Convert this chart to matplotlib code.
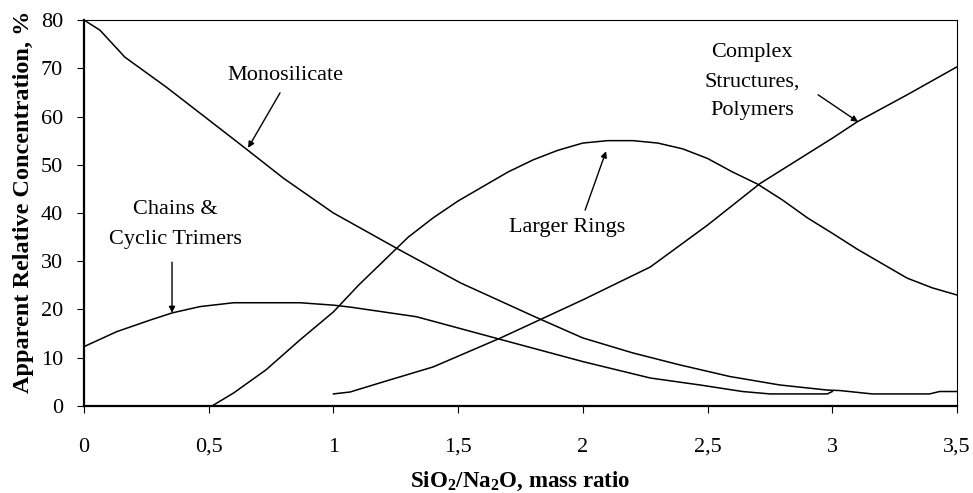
import matplotlib
matplotlib.use("Agg")
import matplotlib.pyplot as plt

plt.rcParams["font.family"] = ["Liberation Serif", "DejaVu Serif"]
plt.rcParams["mathtext.fontset"] = "custom"
plt.rcParams["mathtext.rm"] = "Liberation Serif"
plt.rcParams["mathtext.bf"] = "Liberation Serif:bold"
plt.rcParams["xtick.major.pad"] = 18
plt.rcParams["ytick.major.pad"] = 10
plt.rcParams["xtick.major.size"] = 5
plt.rcParams["ytick.major.size"] = 5
plt.rcParams["xtick.labelsize"] = 16
plt.rcParams["ytick.labelsize"] = 16

# values (x = SiO2/Na2O mass ratio, y = %)
mono_x = [0, 0.064, 0.164, 0.33, 0.465, 0.6, 0.667, 0.8, 1.0, 1.267, 1.51, 1.82, 2.0,
          2.2, 2.39, 2.59, 2.79, 2.98, 3.03, 3.16, 3.39, 3.43, 3.5]
mono_y = [80, 77.9, 72.3, 66.1, 60.7, 55.3, 52.6, 47.2, 40.0, 32.3, 25.5, 18.2, 14.1,
          11.0, 8.5, 6.1, 4.35, 3.3, 3.2, 2.5, 2.5, 3.0, 3.0]

chain_x = [0, 0.131, 0.265, 0.354, 0.465, 0.6, 0.866, 1.0, 1.067, 1.333, 1.655, 2.0,
           2.27, 2.47, 2.64, 2.75, 2.98, 3.0]
chain_y = [12.3, 15.4, 17.8, 19.3, 20.6, 21.4, 21.4, 20.9, 20.5, 18.5, 14.0, 9.2,
           5.8, 4.35, 3.0, 2.5, 2.5, 3.0]

ring_x = [0.513, 0.6, 0.73, 0.866, 1.0, 1.1, 1.2, 1.3, 1.4, 1.5, 1.6, 1.7, 1.8, 1.9,
          2.0, 2.1, 2.2, 2.3, 2.4, 2.5, 2.6, 2.7, 2.8, 2.9, 3.0, 3.1, 3.2, 3.3, 3.4, 3.5]
ring_y = [0, 2.7, 7.5, 13.7, 19.5, 25.0, 30.0, 35.0, 39.0, 42.5, 45.5, 48.5, 51.0, 53.0,
          54.5, 55.0, 55.0, 54.5, 53.3, 51.3, 48.5, 46.0, 42.7, 39.0, 35.8, 32.5, 29.5,
          26.5, 24.5, 23.0]

cplx_x = [1.0, 1.067, 1.2, 1.4, 1.67, 2.0, 2.27, 2.5, 2.71, 3.0, 3.1, 3.3, 3.5]
cplx_y = [2.5, 2.9, 5.0, 8.1, 14.1, 22.0, 28.8, 37.5, 46.1, 55.5, 58.9, 64.5, 70.3]

x_ticks = [0, 0.5, 1, 1.5, 2, 2.5, 3, 3.5]
x_tick_labels = ["0", "0,5", "1", "1,5", "2", "2,5", "3", "3,5"]
y_ticks = [0, 10, 20, 30, 40, 50, 60, 70, 80]

fig = plt.figure(figsize=(9.73, 4.93), dpi=100)
ax = fig.add_axes([0.0863, 0.1765, 0.8973, 0.7829])

for xs, ys in [(mono_x, mono_y), (chain_x, chain_y), (ring_x, ring_y), (cplx_x, cplx_y)]:
    ax.plot(xs, ys, color="black", linewidth=1.1)

ax.set_xlim(0, 3.5)
ax.set_ylim(0, 80)
ax.set_xticks(x_ticks)
ax.set_xticklabels(x_tick_labels)
ax.set_yticks(y_ticks)

ax.spines["left"].set_linewidth(1.6)
ax.spines["bottom"].set_linewidth(1.6)
ax.spines["top"].set_linewidth(0.8)
ax.spines["right"].set_linewidth(0.8)

ax.set_xlabel(r"SiO$_\mathbf{2}$/Na$_\mathbf{2}$O, mass ratio", fontsize=16.5,
              fontweight="bold")
ax.xaxis.set_label_coords(0.5, -0.165)
ax.set_ylabel("Apparent Relative Concentration, %", fontsize=17.5, fontweight="bold")
ax.yaxis.set_label_coords(-0.057, 0.528)

arrow = dict(arrowstyle="-|>", color="black", lw=1.0, mutation_scale=9,
             shrinkA=0, shrinkB=0)
ax.annotate("", xy=(0.658, 53.5), xytext=(0.786, 64.9), arrowprops=arrow)
ax.text(0.806, 68.4, "Monosilicate", fontsize=16, ha="center", va="center")

ax.annotate("", xy=(0.353, 19.3), xytext=(0.353, 29.8), arrowprops=arrow)
ax.text(0.365, 37.6, "Chains &\nCyclic Trimers", fontsize=16, ha="center",
        va="center", linespacing=1.77)

ax.annotate("", xy=(2.093, 52.8), xytext=(2.009, 40.6), arrowprops=arrow)
ax.text(1.937, 36.9, "Larger Rings", fontsize=16, ha="center", va="center")

ax.annotate("", xy=(3.103, 58.9), xytext=(2.943, 64.5), arrowprops=arrow)
ax.text(2.678, 67.2, "Complex\nStructures,\nPolymers", fontsize=16, ha="center",
        va="center", linespacing=1.73)

fig.savefig("out.png", dpi=100)
